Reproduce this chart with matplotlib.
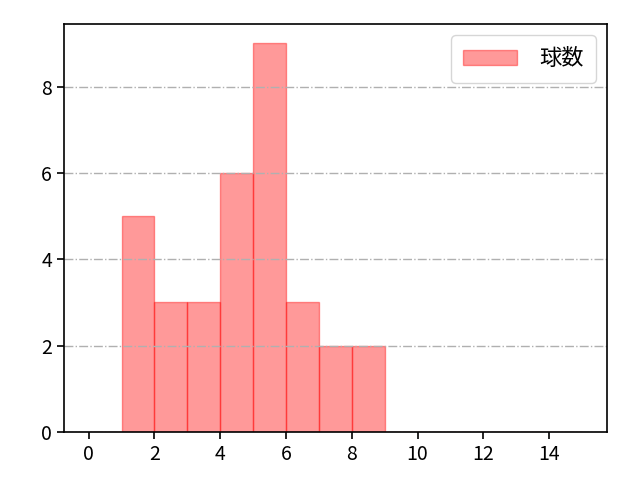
import numpy as np
import matplotlib
matplotlib.use("Agg")
from matplotlib import pyplot as plt

plt.rcParams['font.family'] = ['Noto Sans CJK JP', 'DejaVu Sans']

# 球数の値と度数
values = [1, 2, 3, 4, 5, 6, 7, 8]
counts = [5, 3, 3, 6, 9, 3, 2, 2]
bins = np.arange(0, 16)

fig, ax = plt.subplots(figsize=(6.4, 4.8), dpi=100)
fig.subplots_adjust(left=0.1, right=0.948, top=0.95, bottom=0.1)

ax.hist(values, bins=bins, weights=counts, color='red', alpha=0.4,
        edgecolor='red', linewidth=1, label='球数')

ax.set_xticks(np.arange(0, 15, 2))
ax.set_yticks([0, 2, 4, 6, 8])
ax.tick_params(labelsize=14, width=1.2, length=5)
for s in ax.spines.values():
    s.set_linewidth(1.2)
ax.grid(axis='y', linestyle='-.', color='#b0b0b0', linewidth=1)
ax.legend(loc='upper right', fontsize=16, handlelength=2.4,
          borderpad=0.55, handletextpad=1.0)

plt.savefig('out.png')
